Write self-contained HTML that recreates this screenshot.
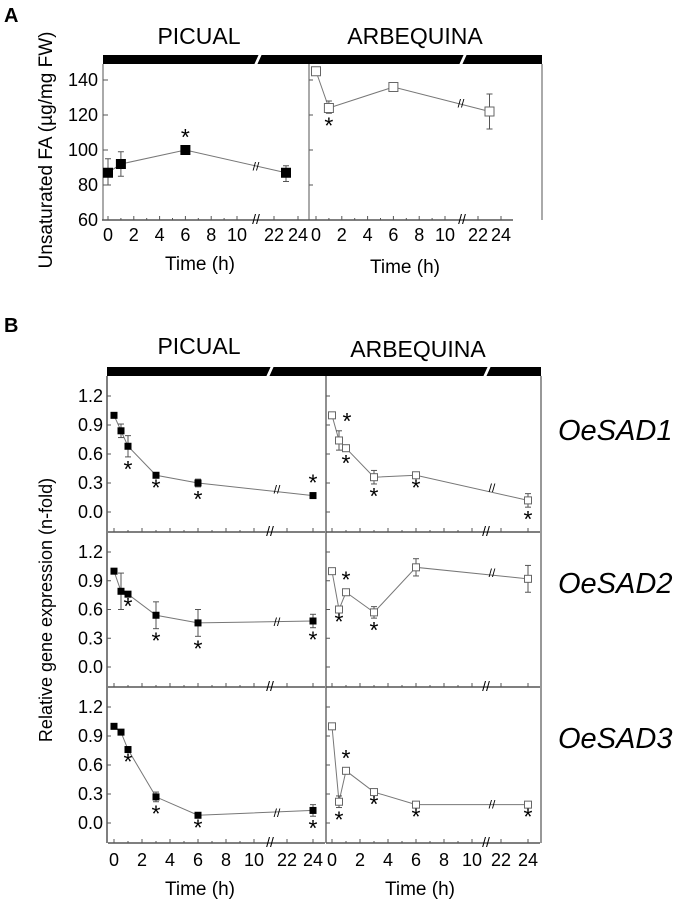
<!DOCTYPE html>
<html><head><meta charset="utf-8"><style>
body{margin:0;background:#fff;}
svg{display:block;font-family:"Liberation Sans",sans-serif;}
</style></head><body>
<svg id="fig" width="693" height="908" viewBox="0 0 693 908" xmlns="http://www.w3.org/2000/svg">
<text x="4" y="22" font-size="20" font-weight="bold">A</text>
<text x="199" y="44" font-size="23" text-anchor="middle">PICUAL</text>
<text x="415" y="44" font-size="23" text-anchor="middle">ARBEQUINA</text>
<text transform="translate(52,150) rotate(-90)" font-size="19" text-anchor="middle">Unsaturated FA (µg/mg FW)</text>
<text x="200" y="270" font-size="19" text-anchor="middle">Time (h)</text>
<text x="405" y="273" font-size="19" text-anchor="middle">Time (h)</text>
<text x="4" y="332" font-size="20" font-weight="bold">B</text>
<text x="199" y="354" font-size="23" text-anchor="middle">PICUAL</text>
<text x="418" y="357" font-size="23" text-anchor="middle">ARBEQUINA</text>
<text transform="translate(52,610) rotate(-90)" font-size="18" text-anchor="middle">Relative gene expression (n-fold)</text>
<text x="200" y="895" font-size="19" text-anchor="middle">Time (h)</text>
<text x="420" y="895" font-size="19" text-anchor="middle">Time (h)</text>
<text x="558" y="440" font-size="29" font-style="italic">OeSAD1</text>
<text x="558" y="593" font-size="29" font-style="italic">OeSAD2</text>
<text x="558" y="748" font-size="29" font-style="italic">OeSAD3</text>
<g id="plots"></g>
</svg>
<script>
// ---- Panel A data ----
const faTimesPic = [0, 1, 6, 23];
const faValsPic = [87, 92, 100, 87];
const faLoPic = [80, 85, 100, 82];
const faHiPic = [95, 99, 100, 91];
const faStarPic = [0, 0, 1, 0];
const faTimesArb = [0, 1, 6, 23];
const faValsArb = [145, 124, 136, 122];
const faLoArb = [145, 121, 136, 112];
const faHiArb = [145, 128, 136, 132];
const faStarArb = [0, -1, 0, 0];
const faYTicks = [60, 80, 100, 120, 140];
const xTickLabels = ["0","2","4","6","8","10","22","24"];
const xTickTimes = [0,2,4,6,8,10,22,24];
const geneYTicks = ["0.0","0.3","0.6","0.9","1.2"];
// ---- Panel B data ----
const geneTimes = [0, 0.5, 1, 3, 6, 24];
const sad1Pic = [1.0, 0.84, 0.68, 0.38, 0.30, 0.17];
const sad1PicErr = [0, 0.07, 0.11, 0, 0.04, 0];
const sad1PicStar = [0, 0, -1, -1, -1, 1];
const sad1Arb = [1.0, 0.74, 0.66, 0.36, 0.38, 0.12];
const sad1ArbErr = [0, 0.10, 0.03, 0.07, 0, 0.07];
const sad1ArbStar = [0, 2, -1, -1, -1, -1];
const sad2Pic = [1.0, 0.79, 0.76, 0.54, 0.46, 0.48];
const sad2PicErr = [0, 0.19, 0, 0.14, 0.14, 0.07];
const sad2PicStar = [0, 0, -1, -1, -1, -1];
const sad2Arb = [1.0, 0.60, 0.78, 0.57, 1.04, 0.92];
const sad2ArbErr = [0, 0, 0, 0.06, 0.09, 0.14];
const sad2ArbStar = [0, -1, 1, -1, 0, 0];
const sad3Pic = [1.0, 0.94, 0.76, 0.27, 0.08, 0.13];
const sad3PicErr = [0, 0, 0, 0.05, 0, 0.06];
const sad3PicStar = [0, 0, -1, -1, -1, -1];
const sad3Arb = [1.0, 0.22, 0.54, 0.32, 0.19, 0.19];
const sad3ArbErr = [0, 0.06, 0, 0, 0, 0];
const sad3ArbStar = [0, -1, 1, -1, -1, -1];

const NS="http://www.w3.org/2000/svg";
const G=document.getElementById('plots');
function mk(tag,attrs,parent,name){const e=document.createElementNS(NS,tag);for(const k in attrs)e.setAttribute(k,attrs[k]);(parent||G).appendChild(e);


return e;}
function xMap(x0,x10,x22,x24){return t=>t<=10?x0+(x10-x0)*t/10:x22+(x24-x22)*(t-22)/2;}
function drawBar(x1,x2,y,h,breaks){
  mk('rect',{x:x1,y:y,width:x2-x1,height:h,fill:'#000'},G,'dark-period-bar');
  breaks.forEach(b=>mk('polygon',{points:`${b-2},${y+h+1} ${b+3},${y-1} ${b+6},${y-1} ${b+1},${y+h+1}`,fill:'#fff'},G,'bar-break'));
}
function axisX(xm,y,brk,labels,labY,fs){
  mk('line',{x1:xm(0)-6,x2:xm(24)+12,y1:y,y2:y,stroke:'#555','stroke-width':1.5},G,'x-axis');
  xTickTimes.forEach((t,i)=>{mk('line',{x1:xm(t),x2:xm(t),y1:y,y2:y-4,stroke:'#555'},G,'x-tick');
    if(t<10){mk('line',{x1:xm(t+1),x2:xm(t+1),y1:y,y2:y-2,stroke:'#555'},G,'x-minor-tick');}
    if(labels){const tx=mk('text',{x:xm(t),y:labY,'font-size':fs,'text-anchor':'middle'},G,'x-tick-label');tx.textContent=xTickLabels[i];}});
  mk('text',{x:brk,y:y+4,'font-size':14,'text-anchor':'middle',fill:'#000'},G,'axis-break').textContent='//';
}
function series(xm,ym,ts,vs,lo,hi,stars,filled,sz,sep){
  mk('polyline',{points:ts.map((t,i)=>`${xm(t)},${ym(vs[i])}`).join(' '),fill:'none',stroke:'#777','stroke-width':1},G,'series-line');
  if(sep)mk('text',{x:sep[0],y:sep[1]+4,'font-size':12,'text-anchor':'middle'},G,'line-break').textContent='//';
  ts.forEach((t,i)=>{const x=xm(t);
    if(hi[i]!==lo[i]){mk('line',{x1:x,x2:x,y1:ym(lo[i]),y2:ym(hi[i]),stroke:'#555'},G,'error-bar');
      [lo[i],hi[i]].forEach(v=>mk('line',{x1:x-3,x2:x+3,y1:ym(v),y2:ym(v),stroke:'#555'},G,'error-cap'));}
    mk('rect',{x:x-sz/2,y:ym(vs[i])-sz/2,width:sz,height:sz,fill:filled?'#000':'#fff',stroke:filled?'#000':'#666'},G,'data-point');
    const s=stars[i];
    if(s){let sx=x,sy;
      if(s===-1)sy=Math.max(ym(lo[i]),ym(vs[i]))+20;else if(s===1)sy=Math.min(ym(hi[i]),ym(vs[i]))-5;else{sx=x+8;sy=ym(hi[i])-2;}
      mk('text',{x:sx,y:sy,'font-size':23,'text-anchor':'middle'},G,'significance-asterisk').textContent='*';}
  });
}
// Panel A
drawBar(103,542,55,9,[256,461]);
mk('line',{x1:309,x2:309,y1:64,y2:220,stroke:'#555'},G,'panel-divider');
mk('line',{x1:542,x2:542,y1:64,y2:220,stroke:'#555'},G,'right-border');
mk('line',{x1:103,x2:103,y1:64,y2:220,stroke:'#555'},G,'y-axis-a');
const yA=v=>220-(v-60)*35/20;
faYTicks.forEach(v=>{mk('line',{x1:103,x2:108,y1:yA(v),y2:yA(v),stroke:'#555'},G,'y-tick');
  mk('line',{x1:309,x2:313,y1:yA(v),y2:yA(v),stroke:'#555'},G,'y-tick');
  mk('text',{x:98,y:yA(v)+6,'font-size':18,'text-anchor':'end'},G,'y-tick-label').textContent=v;});
const xAL=xMap(108,237,274,298), xAR=xMap(316,445,478,501);
axisX(xAL,220,256,true,241,18); axisX(xAR,220,462,true,241,18);
series(xAL,yA,faTimesPic,faValsPic,faLoPic,faHiPic,faStarPic,true,9,[256,yA(90.5)]);
series(xAR,yA,faTimesArb,faValsArb,faLoArb,faHiArb,faStarArb,false,9,[461,yA(126.5)]);
// Panel B
drawBar(107,541,367,9,[268,485]);
const rows=[[376,532,sad1Pic,sad1PicErr,sad1PicStar,sad1Arb,sad1ArbErr,sad1ArbStar],
[532,687,sad2Pic,sad2PicErr,sad2PicStar,sad2Arb,sad2ArbErr,sad2ArbStar],
[687,843,sad3Pic,sad3PicErr,sad3PicStar,sad3Arb,sad3ArbErr,sad3ArbStar]];
const xBL=xMap(114,254,287,313), xBR=xMap(332,472,501,528);
mk('line',{x1:107,x2:107,y1:376,y2:843,stroke:'#555','stroke-width':1.5},G,'y-axis-b');
mk('line',{x1:326,x2:326,y1:376,y2:843,stroke:'#222'},G,'panel-divider-b');
mk('line',{x1:541,x2:541,y1:376,y2:843,stroke:'#777','stroke-width':1.5},G,'right-border-b');
rows.forEach((r,ri)=>{const [top,bot]=r; const ym=v=>bot-20-v*(bot-40-top)/1.2;
  geneYTicks.forEach(l=>{const v=parseFloat(l);
    mk('line',{x1:107,x2:111,y1:ym(v),y2:ym(v),stroke:'#555'},G,'y-tick');
    mk('line',{x1:326,x2:330,y1:ym(v),y2:ym(v),stroke:'#555'},G,'y-tick');
    mk('text',{x:103,y:ym(v)+6,'font-size':18,'text-anchor':'end'},G,'y-tick-label').textContent=l;});
  axisX(xBL,bot,270,ri===2,866,18); axisX(xBR,bot,486,ri===2,866,18);
  const lo1=r[2].map((v,i)=>v-r[3][i]),hi1=r[2].map((v,i)=>v+r[3][i]);
  const lo2=r[5].map((v,i)=>v-r[6][i]),hi2=r[5].map((v,i)=>v+r[6][i]);
  const sl=ym((r[2][4]+r[2][5])/2), sr=ym((r[5][4]+r[5][5])/2);
  series(xBL,ym,geneTimes,r[2],lo1,hi1,r[4],true,6,[277,sl]);
  series(xBR,ym,geneTimes,r[5],lo2,hi2,r[7],false,7,[492,sr]);
});
</script>
</body></html>
